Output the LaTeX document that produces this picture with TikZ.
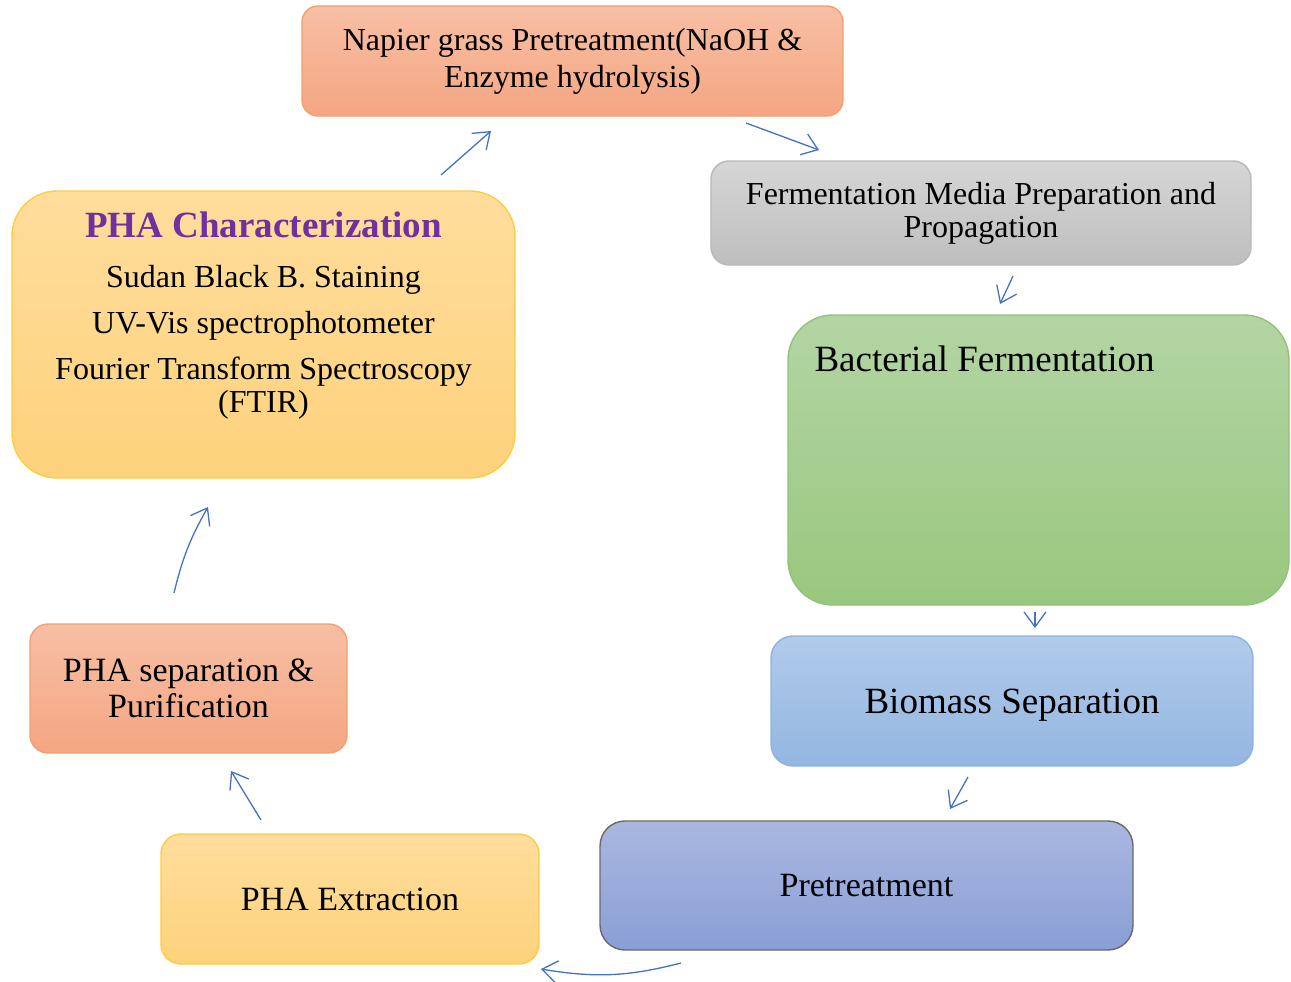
\documentclass[tikz,border=0pt]{standalone}
\usepackage{fontspec}
\setmainfont{Liberation Serif}
\usetikzlibrary{positioning,arrows.meta}

\definecolor{orangetop}{HTML}{F7BFA5}
\definecolor{orangebot}{HTML}{F5A682}
\definecolor{orangeline}{HTML}{F2A06F}
\definecolor{graytop}{HTML}{D6D6D6}
\definecolor{graybot}{HTML}{BEBEBE}
\definecolor{grayline}{HTML}{B8B8B8}
\definecolor{greentop}{HTML}{B3D5A4}
\definecolor{greenbot}{HTML}{9AC77E}
\definecolor{greenline}{HTML}{90C278}
\definecolor{bluetop}{HTML}{B1CBEA}
\definecolor{bluebot}{HTML}{94B6E1}
\definecolor{blueline}{HTML}{8DB3E2}
\definecolor{indigotop}{HTML}{AAB7E0}
\definecolor{indigobot}{HTML}{8A9FD7}
\definecolor{indigoline}{HTML}{6A6A6A}
\definecolor{yellowtop}{HTML}{FFDD9C}
\definecolor{yellowbot}{HTML}{FDD27C}
\definecolor{yellowline}{HTML}{FFCC40}
\definecolor{titlepurple}{HTML}{7030A0}
\definecolor{flowblue}{HTML}{4472C4}

\tikzset{
    stage/.style={rectangle, rounded corners=16pt, line width=1.4pt, align=center,
        inner sep=0pt, font=\fontsize{32}{37}\selectfont},
    orangebox/.style={stage, draw=orangeline, top color=orangetop, bottom color=orangebot},
    graybox/.style={stage, draw=grayline, top color=graytop, bottom color=graybot},
    greenbox/.style={stage, draw=greenline, top color=greentop, bottom color=greenbot},
    bluebox/.style={stage, draw=blueline, top color=bluetop, bottom color=bluebot},
    indigobox/.style={stage, draw=indigoline, top color=indigotop, bottom color=indigobot},
    yellowbox/.style={stage, draw=yellowline, top color=yellowtop, bottom color=yellowbot},
    flow/.style={draw=flowblue, line width=1.3pt, -{Straight Barb[length=15pt,width=22pt]}}
}

\begin{document}
\begin{tikzpicture}[x=1pt,y=-1pt]
    \useasboundingbox (0,0) rectangle (1291,982);

    % process boxes
    \node[orangebox, minimum width=541pt, minimum height=110pt] (napier) at (572.5,61)
        {Napier grass Pretreatment(NaOH \&\\ Enzyme hydrolysis)};
    \node[graybox, rounded corners=18pt, minimum width=540pt, minimum height=104pt,
        font=\fontsize{32}{33}\selectfont] (media) at (981,213)
        {Fermentation Media Preparation and\\ Propagation};
    \node[greenbox, rounded corners=45pt, minimum width=501pt, minimum height=290pt] (bact) at (1038.5,460) {};
    \node[anchor=north west, inner sep=0pt, font=\fontsize{37}{40}\selectfont]
        (bacttext) at ([xshift=27pt,yshift=-31pt]bact.north west) {Bacterial Fermentation};
    \node[bluebox, rounded corners=22pt, minimum width=482pt, minimum height=130pt,
        text height=33pt, text depth=9pt,
        font=\fontsize{37}{40}\selectfont] (biomass) at (1012,701) {Biomass Separation};
    \node[indigobox, rounded corners=25pt, minimum width=533pt, minimum height=129pt,
        font=\fontsize{34}{38}\selectfont] (pretreat) at (866.5,885.5) {Pretreatment};
    \node[yellowbox, rounded corners=20pt, minimum width=378pt, minimum height=130pt,
        font=\fontsize{34}{38}\selectfont] (extract) at (350,899) {PHA Extraction};
    \node[orangebox, rounded corners=18pt, minimum width=317pt, minimum height=129pt,
        font=\fontsize{34}{36}\selectfont] (purify) at (188.5,688.5)
        {PHA separation \&\\ Purification};
    \node[yellowbox, rounded corners=45pt, minimum width=503pt, minimum height=287pt] (charac) at (263.5,334.5) {};
    \node[below=21pt of charac.north, align=center, inner sep=0pt,
        font=\fontsize{32}{33}\selectfont] (chartext)
        {{\fontsize{37}{40}\selectfont\bfseries\color{titlepurple}PHA Characterization}\\[17pt]
        Sudan Black B. Staining\\[13pt]
        UV-Vis spectrophotometer\\[13pt]
        Fourier Transform Spectroscopy\\
        (FTIR)};

    % arrow ends
    \coordinate (c1) at (441,175);  \coordinate (n1) at (491,131);
    \coordinate (n2) at (746,123);  \coordinate (m1) at (819,150);
    \coordinate (m2) at (1013,276); \coordinate (b1) at (1000,304);
    \coordinate (b2) at (1035,612); \coordinate (s1) at (1035,628);
    \coordinate (s2) at (968,777);  \coordinate (p1) at (950,809);
    \coordinate (p2) at (681,963);  \coordinate (e1) at (541,969);
    \coordinate (e2) at (261,820);  \coordinate (u1) at (231,771);
    \coordinate (u2) at (174,593);  \coordinate (h1) at (208,507);

    \draw[flow] (c1) -- (n1);
    \draw[flow] (n2) -- (m1);
    \draw[flow] (m2) -- (b1);
    \draw[flow] (b2) -- (s1);
    \draw[flow] (s2) -- (p1);
    \draw[flow] (p2) to[bend left=12] (e1);
    \draw[flow] (e2) -- (u1);
    \draw[flow] (u2) to[bend left=8] (h1);
\end{tikzpicture}
\end{document}
